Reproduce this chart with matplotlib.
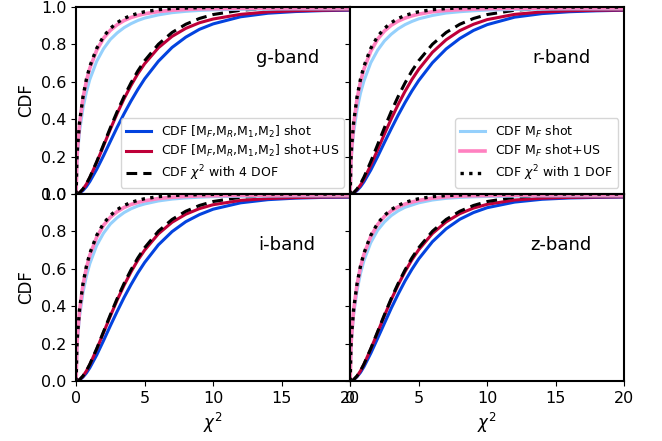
import numpy as np
import matplotlib
matplotlib.use("Agg")
import matplotlib.pyplot as plt

# chi^2 grid shared by every curve
chi2 = [0, 0.05, 0.1, 0.25, 0.5, 0.75, 1, 1.5, 2, 2.5, 3, 3.5, 4, 4.5, 5,
        6, 7, 8, 9, 10, 12, 14, 16, 18, 20]

# reference chi^2 CDFs
cdf_dof4 = [0, 0.0003, 0.001, 0.007, 0.027, 0.055, 0.090, 0.173, 0.264, 0.355, 0.442, 0.522, 0.594,
            0.658, 0.713, 0.801, 0.864, 0.908, 0.939, 0.960, 0.983, 0.993, 0.997, 0.999, 1.0]
cdf_dof1 = [0, 0.177, 0.248, 0.383, 0.520, 0.614, 0.683, 0.779, 0.843, 0.886, 0.917, 0.939, 0.955,
            0.966, 0.975, 0.986, 0.992, 0.995, 0.997, 0.998, 1.0, 1.0, 1.0, 1.0, 1.0]

bands = ["g-band", "r-band", "i-band", "z-band"]

# [M_F,M_R,M_1,M_2] shot
shot4 = {
    "g-band": [0, 0.0002, 0.001, 0.005, 0.019, 0.040, 0.067, 0.132, 0.205, 0.282, 0.358, 0.430, 0.497,
               0.559, 0.616, 0.710, 0.784, 0.839, 0.881, 0.910, 0.948, 0.967, 0.976, 0.981, 0.983],
    "r-band": [0, 0.0002, 0.001, 0.005, 0.019, 0.039, 0.065, 0.128, 0.200, 0.276, 0.350, 0.422, 0.489,
               0.551, 0.607, 0.702, 0.776, 0.832, 0.875, 0.906, 0.946, 0.965, 0.975, 0.980, 0.983],
    "i-band": [0, 0.0002, 0.001, 0.006, 0.021, 0.043, 0.071, 0.139, 0.216, 0.296, 0.373, 0.447, 0.515,
               0.578, 0.634, 0.728, 0.799, 0.852, 0.890, 0.919, 0.953, 0.970, 0.978, 0.982, 0.983],
    "z-band": [0, 0.0002, 0.001, 0.006, 0.023, 0.046, 0.076, 0.148, 0.228, 0.309, 0.390, 0.465, 0.535,
               0.597, 0.653, 0.745, 0.814, 0.865, 0.901, 0.927, 0.957, 0.972, 0.979, 0.982, 0.984],
}
# [M_F,M_R,M_1,M_2] shot+US
shotus4 = {
    "g-band": [0, 0.0003, 0.001, 0.007, 0.026, 0.053, 0.088, 0.169, 0.258, 0.347, 0.432, 0.510, 0.580,
               0.643, 0.697, 0.782, 0.843, 0.886, 0.916, 0.936, 0.961, 0.974, 0.980, 0.983, 0.985],
    "r-band": [0, 0.0003, 0.001, 0.006, 0.024, 0.048, 0.079, 0.154, 0.236, 0.321, 0.403, 0.479, 0.549,
               0.612, 0.667, 0.758, 0.825, 0.874, 0.908, 0.933, 0.961, 0.974, 0.980, 0.983, 0.984],
    "i-band": [0, 0.0003, 0.001, 0.007, 0.026, 0.054, 0.088, 0.170, 0.259, 0.348, 0.434, 0.512, 0.583,
               0.646, 0.700, 0.787, 0.849, 0.892, 0.922, 0.943, 0.966, 0.976, 0.981, 0.984, 0.985],
    "z-band": [0, 0.0003, 0.001, 0.007, 0.026, 0.054, 0.089, 0.171, 0.260, 0.350, 0.436, 0.514, 0.585,
               0.648, 0.702, 0.789, 0.851, 0.895, 0.925, 0.945, 0.968, 0.978, 0.982, 0.984, 0.985],
}
# M_F shot
shot1 = {
    "g-band": [0, 0.155, 0.216, 0.336, 0.460, 0.546, 0.613, 0.710, 0.777, 0.827, 0.862, 0.890, 0.911,
               0.928, 0.941, 0.958, 0.970, 0.977, 0.982, 0.985, 0.988, 0.989, 0.990, 0.990, 0.990],
    "r-band": [0, 0.152, 0.212, 0.330, 0.452, 0.539, 0.604, 0.702, 0.769, 0.819, 0.855, 0.884, 0.906,
               0.923, 0.937, 0.955, 0.968, 0.975, 0.980, 0.984, 0.987, 0.989, 0.990, 0.990, 0.990],
    "i-band": [0, 0.160, 0.223, 0.346, 0.473, 0.561, 0.628, 0.725, 0.791, 0.840, 0.874, 0.901, 0.921,
               0.936, 0.947, 0.963, 0.973, 0.979, 0.983, 0.986, 0.988, 0.989, 0.990, 0.990, 0.990],
    "z-band": [0, 0.164, 0.229, 0.355, 0.485, 0.575, 0.643, 0.740, 0.806, 0.851, 0.885, 0.910, 0.929,
               0.941, 0.953, 0.968, 0.977, 0.982, 0.985, 0.987, 0.989, 0.990, 0.990, 0.990, 0.990],
}
# M_F shot+US
shotus1 = {
    "g-band": [0, 0.174, 0.244, 0.377, 0.513, 0.605, 0.673, 0.769, 0.833, 0.876, 0.906, 0.928, 0.944,
               0.955, 0.964, 0.976, 0.983, 0.987, 0.990, 0.991, 0.993, 0.994, 0.995, 0.995, 0.995],
    "r-band": [0, 0.171, 0.240, 0.372, 0.508, 0.600, 0.668, 0.764, 0.828, 0.872, 0.903, 0.925, 0.941,
               0.953, 0.962, 0.975, 0.982, 0.986, 0.989, 0.991, 0.993, 0.994, 0.995, 0.995, 0.995],
    "i-band": [0, 0.174, 0.244, 0.377, 0.513, 0.605, 0.673, 0.769, 0.833, 0.876, 0.906, 0.928, 0.944,
               0.955, 0.964, 0.976, 0.983, 0.987, 0.990, 0.991, 0.993, 0.994, 0.995, 0.995, 0.995],
    "z-band": [0, 0.176, 0.246, 0.380, 0.516, 0.609, 0.677, 0.773, 0.837, 0.880, 0.910, 0.931, 0.946,
               0.957, 0.966, 0.978, 0.985, 0.989, 0.991, 0.992, 0.994, 0.995, 0.995, 0.995, 0.995],
}

c_blue = "#0343df"
c_crimson = "#be0039"
c_lblue = "#95d0fc"
c_pink = "#ff81c0"

fig, axs = plt.subplots(2, 2, sharex=True, sharey=True, figsize=(6.62, 4.41), dpi=100)
fig.subplots_adjust(left=0.115, right=0.943, top=0.984, bottom=0.136, hspace=0, wspace=0)

for ax, band in zip(axs.flat, bands):
    ax.plot(chi2, shot4[band], color=c_blue, lw=2.2, label=r"CDF [M$_F$,M$_R$,M$_1$,M$_2$] shot")
    ax.plot(chi2, shotus4[band], color=c_crimson, lw=2.2, label=r"CDF [M$_F$,M$_R$,M$_1$,M$_2$] shot+US")
    ax.plot(chi2, cdf_dof4, color="k", lw=2.2, ls=(0, (3.5, 2)), label=r"CDF $\chi^2$ with 4 DOF")
    ax.plot(chi2, shot1[band], color=c_lblue, lw=2.2, label=r"CDF M$_F$ shot")
    ax.plot(chi2, shotus1[band], color=c_pink, lw=2.6, label=r"CDF M$_F$ shot+US")
    ax.plot(chi2, cdf_dof1, color="k", lw=2.4, ls=(0, (1, 1.6)), label=r"CDF $\chi^2$ with 1 DOF")
    ax.text(0.77, 0.73, band, transform=ax.transAxes, ha="center", va="center", fontsize=13)
    ax.set_xlim(0, 20)
    ax.set_ylim(0, 1)
    ax.tick_params(labelsize=11.5)
    for s in ax.spines.values():
        s.set_linewidth(1.5)

h, l = axs[0, 0].get_legend_handles_labels()
axs[0, 0].legend(h[:3], l[:3], loc="lower right", fontsize=9, labelspacing=0.3)
axs[0, 1].legend(h[3:], l[3:], loc="lower right", fontsize=9, labelspacing=0.3)

for ax in axs[:, 0]:
    ax.set_ylabel("CDF", fontsize=12)
for ax in axs[1, :]:
    ax.set_xlabel(r"$\chi^2$", fontsize=12)

fig.savefig("out.png")
